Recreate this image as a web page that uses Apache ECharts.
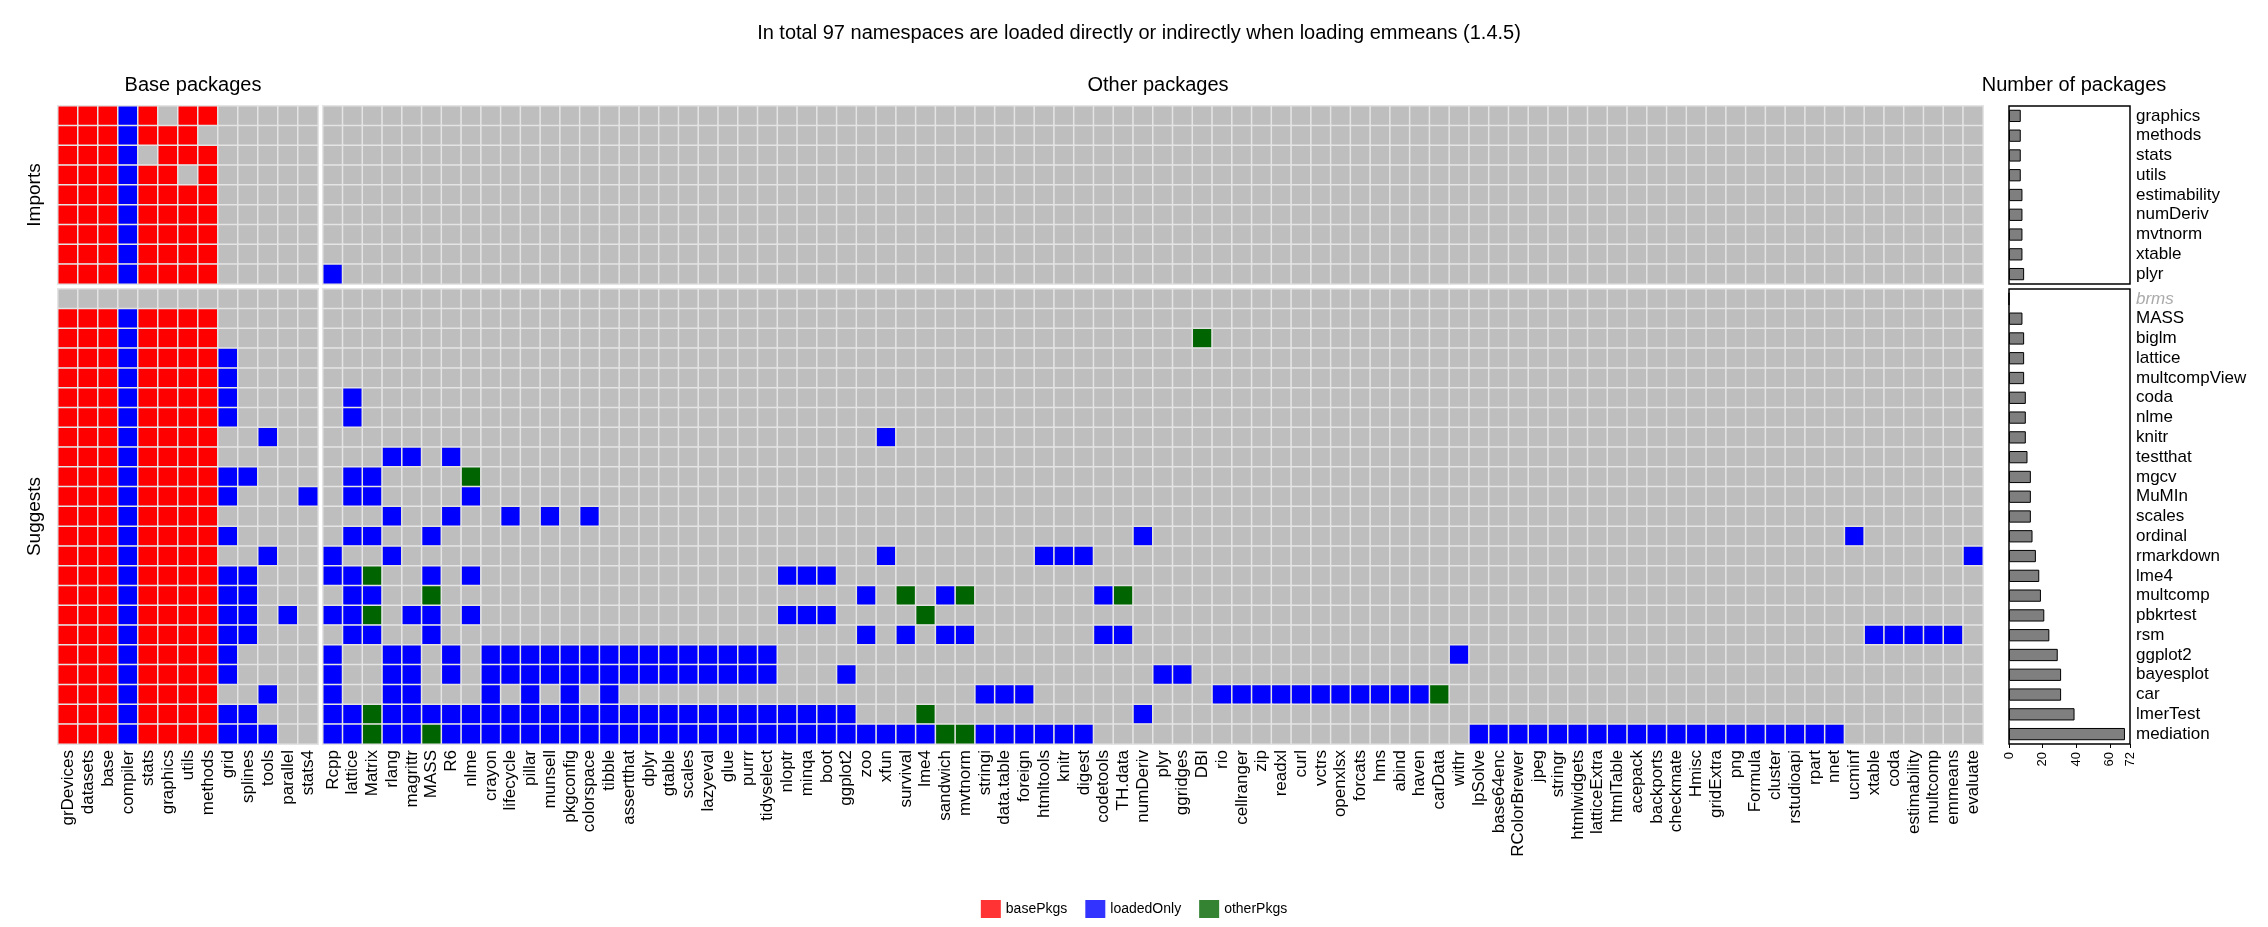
<!DOCTYPE html>
<html>
<head>
<meta charset="utf-8">
<script src="https://cdn.jsdelivr.net/npm/echarts@6/dist/echarts.min.js"></script>
<style>html,body{margin:0;padding:0;background:#fff}#main{width:2268px;height:927px}</style>
</head>
<body>
<div id="main"></div>
<script>
// columns
var basePkgs = ['grDevices','datasets','base','compiler','stats','graphics','utils','methods','grid','splines','tools','parallel','stats4'];
var otherPkgs = ['Rcpp','lattice','Matrix','rlang','magrittr','MASS','R6','nlme','crayon','lifecycle','pillar','munsell','pkgconfig','colorspace','tibble','assertthat','dplyr','gtable','scales','lazyeval','glue','purrr','tidyselect','nloptr','minqa','boot','ggplot2','zoo','xfun','survival','lme4','sandwich','mvtnorm','stringi','data.table','foreign','htmltools','knitr','digest','codetools','TH.data','numDeriv','plyr','ggridges','DBI','rio','cellranger','zip','readxl','curl','vctrs','openxlsx','forcats','hms','abind','haven','carData','withr','lpSolve','base64enc','RColorBrewer','jpeg','stringr','htmlwidgets','latticeExtra','htmlTable','acepack','backports','checkmate','Hmisc','gridExtra','png','Formula','cluster','rstudioapi','rpart','nnet','ucminf','xtable','coda','estimability','multcomp','emmeans','evaluate'];

// rows
var importsRows = ['graphics','methods','stats','utils','estimability','numDeriv','mvtnorm','xtable','plyr'];
var suggestsRows = ['brms','MASS','biglm','lattice','multcompView','coda','nlme','knitr','testthat','mgcv','MuMIn','scales','ordinal','rmarkdown','lme4','multcomp','pbkrtest','rsm','ggplot2','bayesplot','car','lmerTest','mediation'];

// r = basePkgs, b = loadedOnly, g = otherPkgs, . = not loaded
var importsBase = ['rrrbr.rr.....','rrrbrrr......','rrrb.rrr.....','rrrbrr.r.....','rrrbrrrr.....','rrrbrrrr.....','rrrbrrrr.....','rrrbrrrr.....','rrrbrrrr.....'];
var importsOther = ['','','','','','','','','Rcpp'];
var suggestsBase = ['.............','rrrbrrrr.....','rrrbrrrr.....','rrrbrrrrb....','rrrbrrrrb....','rrrbrrrrb....','rrrbrrrrb....','rrrbrrrr..b..','rrrbrrrr.....','rrrbrrrrbb...','rrrbrrrrb...b','rrrbrrrr.....','rrrbrrrrb....','rrrbrrrr..b..','rrrbrrrrbb...','rrrbrrrrbb...','rrrbrrrrbb.b.','rrrbrrrrbb...','rrrbrrrrb....','rrrbrrrrb....','rrrbrrrr..b..','rrrbrrrrbb...','rrrbrrrrbbb..'];
var tidyCore = 'crayon lifecycle pillar munsell pkgconfig colorspace tibble assertthat dplyr gtable scales lazyeval glue purrr tidyselect';
var suggestsOther = [
  '', '', 'DBI:g', '', '', 'lattice', 'lattice', 'xfun',
  'rlang magrittr R6',
  'lattice Matrix nlme:g',
  'lattice Matrix nlme',
  'rlang R6 lifecycle munsell colorspace',
  'lattice Matrix MASS numDeriv ucminf',
  'Rcpp rlang xfun htmltools knitr digest evaluate',
  'Rcpp lattice Matrix:g MASS nlme nloptr minqa boot',
  'lattice Matrix MASS:g zoo survival:g sandwich mvtnorm:g codetools TH.data:g',
  'Rcpp lattice Matrix:g magrittr MASS nlme nloptr minqa boot lme4:g',
  'lattice Matrix MASS zoo survival sandwich mvtnorm codetools TH.data xtable coda estimability multcomp emmeans',
  'Rcpp rlang magrittr R6 ' + tidyCore + ' withr',
  'Rcpp rlang magrittr R6 ' + tidyCore + ' ggplot2 plyr ggridges',
  'Rcpp rlang magrittr crayon pillar pkgconfig tibble stringi data.table foreign rio cellranger zip readxl curl vctrs openxlsx forcats hms abind haven carData:g',
  'Rcpp lattice Matrix:g rlang magrittr MASS R6 nlme ' + tidyCore + ' nloptr minqa boot ggplot2 lme4:g numDeriv',
  'Rcpp lattice Matrix:g rlang magrittr MASS:g R6 nlme ' + tidyCore + ' nloptr minqa boot ggplot2 zoo xfun survival lme4 sandwich:g mvtnorm:g stringi data.table foreign htmltools knitr digest lpSolve base64enc RColorBrewer jpeg stringr htmlwidgets latticeExtra htmlTable acepack backports checkmate Hmisc gridExtra png Formula cluster rstudioapi rpart nnet'
];

// number of packages per row
var importsCount = [7, 7, 7, 7, 8, 8, 8, 8, 9];
var suggestsCount = [0, 8, 9, 9, 9, 10, 10, 10, 11, 13, 13, 13, 14, 16, 18, 19, 21, 24, 29, 31, 31, 39, 69];

var code = {'.': 0, r: 1, b: 2, g: 3};

function baseData(rows) {
  var out = [];
  rows.forEach(function (s, y) {
    for (var x = 0; x < s.length; x++) out.push([x, y, code[s[x]]]);
  });
  return out;
}
function otherData(rows) {
  var out = [];
  rows.forEach(function (s, y) {
    var v = otherPkgs.map(function () { return 0; });
    s.split(' ').filter(Boolean).forEach(function (t) {
      var p = t.split(':');
      v[otherPkgs.indexOf(p[0])] = p[1] === 'g' ? 3 : 2;
    });
    v.forEach(function (val, x) { out.push([x, y, val]); });
  });
  return out;
}

var font = 'Liberation Sans';
var myChart = echarts.init(document.getElementById('main'));

var L = {base: [58, 260], other: [323, 1660], bar: [2009, 121]};
var T = {imp: [106, 178], sug: [289, 455]};

function grid(col, row, box) {
  return {left: L[col][0], width: L[col][1], top: T[row][0], height: T[row][1],
    show: true, backgroundColor: box ? '#fff' : '#e4e4e4',
    borderColor: box ? '#000' : '#e4e4e4', borderWidth: box ? 1.5 : 1};
}

function catX(gi, data, labels) {
  return {type: 'category', gridIndex: gi, data: data,
    axisLine: {show: false}, axisTick: {show: false}, splitLine: {show: false},
    axisLabel: {show: labels, rotate: 90, interval: 0, fontSize: 17, color: '#000', fontFamily: font, margin: 6}};
}
function catY(gi, data, name) {
  return {type: 'category', gridIndex: gi, data: data, inverse: true,
    axisLine: {show: false}, axisTick: {show: false}, axisLabel: {show: false},
    name: name || '', nameLocation: 'middle', nameRotate: 90, nameGap: 14,
    nameTextStyle: {fontSize: 19, color: '#000', fontFamily: font}};
}
function barY(gi, data) {
  return {type: 'category', gridIndex: gi, data: data, inverse: true, position: 'right',
    axisLine: {show: false}, axisTick: {show: false},
    axisLabel: {interval: 0, fontSize: 17, color: '#000', fontFamily: font, margin: 6,
      formatter: function (v) { return v === 'brms' ? '{g|brms}' : v; },
      rich: {g: {color: '#aaa', fontStyle: 'italic', fontSize: 17, fontFamily: font}}}};
}
function barX(gi, labels) {
  return {type: 'value', gridIndex: gi, min: 0, max: 72, interval: 20,
    splitLine: {show: false}, axisLine: {show: false},
    axisTick: {show: labels, length: 4, lineStyle: {color: '#000'}},
    axisLabel: {show: labels, rotate: 90, fontSize: 13, color: '#000', fontFamily: font}};
}
function heat(gi, data) {
  return {type: 'heatmap', xAxisIndex: gi, yAxisIndex: gi, data: data, silent: true,
    itemStyle: {borderColor: '#e4e4e4', borderWidth: 1.5}, emphasis: {disabled: true}};
}
function bars(gi, data) {
  return {type: 'bar', xAxisIndex: gi, yAxisIndex: gi, data: data, barWidth: '62%', silent: true,
    itemStyle: {color: '#7f7f7f', borderColor: '#000', borderWidth: 1}};
}
function header(text, x, y, size) {
  return {text: text, left: x, top: y, textAlign: 'center',
    textStyle: {fontSize: size, fontWeight: 'normal', color: '#000', fontFamily: font}};
}

var option = {
  animation: false,
  title: [
    header('In total 97 namespaces are loaded directly or indirectly when loading emmeans (1.4.5)', 1134, 18, 20),
    header('Base packages', 188, 70, 20),
    header('Other packages', 1153, 70, 20),
    header('Number of packages', 2069, 70, 20)
  ],
  legend: {bottom: 4, left: 'center', icon: 'rect', itemWidth: 20, itemHeight: 18, itemGap: 18,
    textStyle: {fontSize: 14, fontFamily: font, color: '#000'},
    data: ['basePkgs', 'loadedOnly', 'otherPkgs']},
  visualMap: {type: 'piecewise', show: false, seriesIndex: [0, 1, 2, 3], dimension: 2,
    pieces: [{value: 0, color: '#bebebe'}, {value: 1, color: '#ff0000'},
      {value: 2, color: '#0000ff'}, {value: 3, color: '#006400'}]},
  grid: [grid('base', 'imp'), grid('other', 'imp'), grid('base', 'sug'), grid('other', 'sug'),
    grid('bar', 'imp', true), grid('bar', 'sug', true)],
  xAxis: [catX(0, basePkgs, false), catX(1, otherPkgs, false), catX(2, basePkgs, true), catX(3, otherPkgs, true),
    barX(4, false), barX(5, true)],
  yAxis: [catY(0, importsRows, 'Imports'), catY(1, importsRows), catY(2, suggestsRows, 'Suggests'), catY(3, suggestsRows),
    barY(4, importsRows), barY(5, suggestsRows)],
  series: [
    heat(0, baseData(importsBase)),
    heat(1, otherData(importsOther)),
    heat(2, baseData(suggestsBase)),
    heat(3, otherData(suggestsOther)),
    bars(4, importsCount),
    bars(5, suggestsCount),
    {name: 'basePkgs', type: 'scatter', data: [], itemStyle: {color: '#ff0000'}},
    {name: 'loadedOnly', type: 'scatter', data: [], itemStyle: {color: '#0000ff'}},
    {name: 'otherPkgs', type: 'scatter', data: [], itemStyle: {color: '#006400'}}
  ]
};
myChart.setOption(option);
</script>
</body>
</html>
